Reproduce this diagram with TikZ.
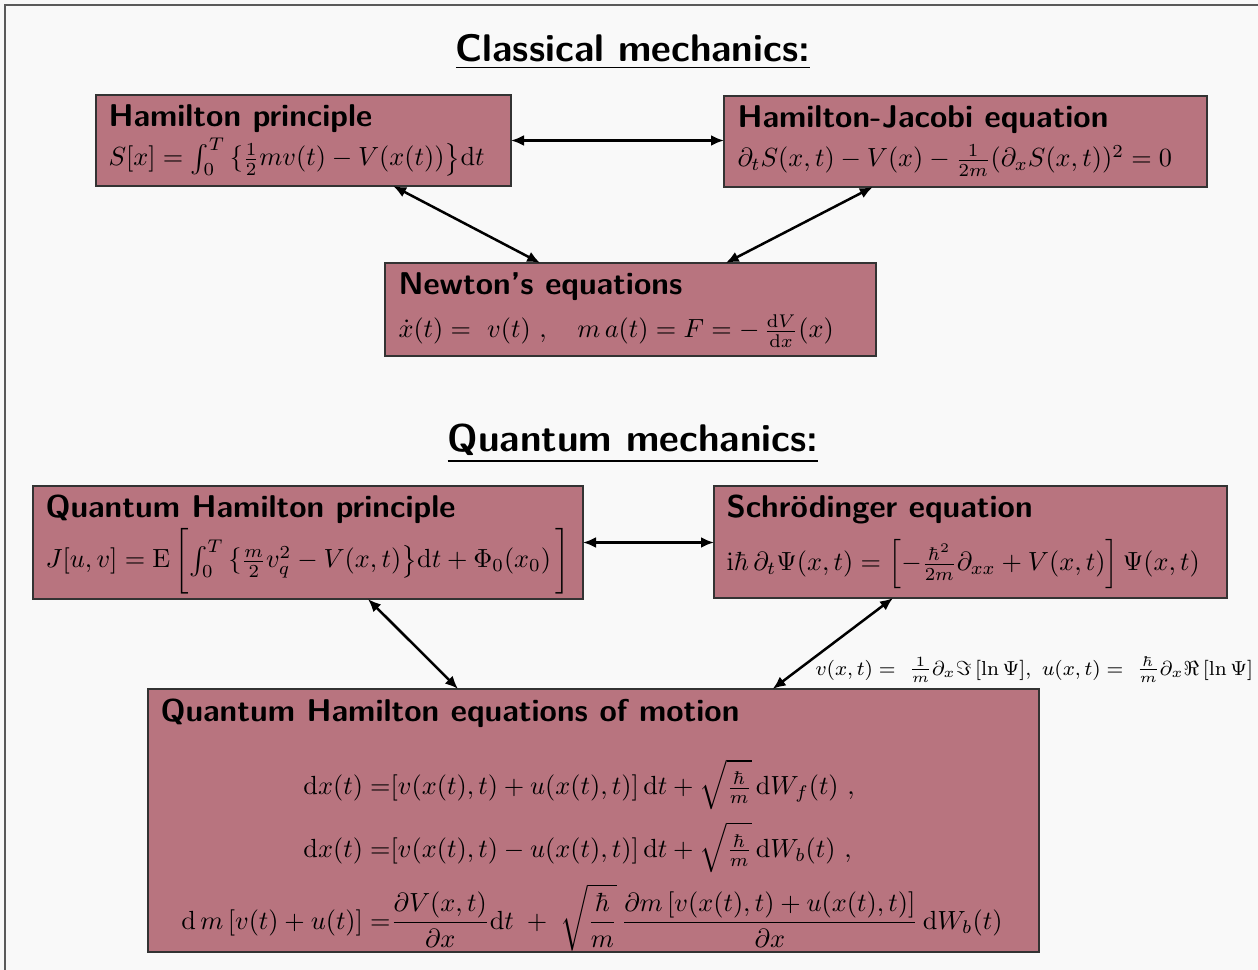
\RequirePackage{fix-cm}
\documentclass[tikz,border=0pt]{standalone}
\usepackage{amsmath}
\usetikzlibrary{arrows.meta,calc}
\definecolor{boxc}{RGB}{184,116,127}
\definecolor{bgc}{RGB}{249,249,249}
\definecolor{framec}{RGB}{90,90,90}
\begin{document}
\begin{tikzpicture}[x=0.4pt,y=-0.4pt,
  box/.style={draw=black!80, line width=0.5pt, fill=boxc, anchor=north west, inner sep=0pt, outer sep=0pt},
  ttl/.style={anchor=base west, inner sep=0pt, font=\fontsize{12.6}{15}\sffamily\bfseries},
  eq/.style={anchor=base west, inner sep=0pt, font=\fontsize{10.5}{12.5}\selectfont},
  head/.style={anchor=base, inner sep=0pt, font=\fontsize{15.4}{18}\sffamily\bfseries},
  link/.style={{Latex[length=5.2pt,width=4.4pt]}-{Latex[length=5.2pt,width=4.4pt]}, line width=1pt}]
\fill[bgc] (0,0) rectangle (1258,970);
\useasboundingbox (0,0) rectangle (1258,970);
\draw[framec, line width=0.6pt] (5,970) -- (5,5) -- (1258,5);

\node[head] (h1) at (633,62) {\underline{Classical mechanics:}};
\node[head] (h2) at (633,452) {\underline{Quantum mechanics:}};

% boxes
\node[box, minimum width=166pt, minimum height=36.4pt] (b1) at (96,95) {};
\node[box, minimum width=193.2pt, minimum height=36.4pt] (b2) at (724,96) {};
\node[box, minimum width=196.4pt, minimum height=37.2pt] (b3) at (385,263) {};
\node[box, minimum width=220pt, minimum height=45.2pt] (b4) at (33,486) {};
\node[box, minimum width=205.2pt, minimum height=44.8pt] (b5) at (714,486) {};
\node[box, minimum width=356.4pt, minimum height=105.2pt] (b6) at (148,689) {};

% titles
\node[ttl] (b1t) at ($(b1.north west)+(12,32)$) {Hamilton principle};
\node[ttl] (b2t) at ($(b2.north west)+(13,32)$) {Hamilton-Jacobi equation};
\node[ttl] (b3t) at ($(b3.north west)+(13,32)$) {Newton's equations};
\node[ttl] (b4t) at ($(b4.north west)+(12,32)$) {Quantum Hamilton principle};
\node[ttl] (b5t) at ($(b5.north west)+(12,32)$) {Schrödinger equation};
\node[ttl] (b6t) at ($(b6.north west)+(12,33)$) {Quantum Hamilton equations of motion};

% formulas
\node[eq] (b1m) at ($(b1.north west)+(12,71)$)
  {$S[x] = \int_0^T\,\{\tfrac{1}{2}mv(t) - V(x(t))\big\}\mathrm{d}t$};
\node[eq] (b2m) at ($(b2.north west)+(13,71)$)
  {$\partial_t S(x,t) - V(x) - \tfrac{1}{2m}(\partial_x S(x,t))^2 = 0$};
\node[eq] (b3m) at ($(b3.north west)+(13,75)$)
  {$\dot x(t) =\ v(t)\ ,\quad m\,a(t) = F = -\,\tfrac{\mathrm{d}V}{\mathrm{d}x}(x)$};
\node[eq] (b4m) at ($(b4.north west)+(12,82)$)
  {$J[u,v] = \mathrm{E}\,\biggl[\int_0^T\,\{\tfrac{m}{2}v_q^2 - V(x,t)\big\}\mathrm{d}t + \Phi_0(x_0)\,\biggr]$};
\node[eq] (b5m) at ($(b5.north west)+(12,85)$)
  {$\mathrm{i}\hbar\,\partial_t\Psi(x,t) = \Bigl[-\tfrac{\hbar^2}{2m}\partial_{xx} + V(x,t)\Bigr]\,\Psi(x,t)$};
\node[anchor=center, inner sep=0pt, font=\fontsize{10.5}{12.5}\selectfont] (b6m) at (592,855)
  {$\displaystyle\begin{aligned}
  \mathrm{d}x(t) =&[v(x(t),t)+u(x(t),t)]\,\mathrm{d}t+\sqrt{\tfrac{\hbar}{m}}\,\mathrm{d}W_f(t)\ ,\\[1pt]
  \mathrm{d}x(t) =&[v(x(t),t)-u(x(t),t)]\,\mathrm{d}t+\sqrt{\tfrac{\hbar}{m}}\,\mathrm{d}W_b(t)\ ,\\[0.5pt]
  \mathrm{d}\,m\,[v(t)+u(t)] =&\frac{\partial V(x,t)}{\partial x}\mathrm{d}t\;+\;\sqrt{\frac{\hbar}{m}}\,\frac{\partial m\,[v(x(t),t)+u(x(t),t)]}{\partial x}\,\mathrm{d}W_b(t)
  \end{aligned}$};

% connectors
\draw[link] (b1.east) -- (b1.east -| b2.west);
\draw[link] ($(b1.south west)!0.716!(b1.south east)$) -- ($(b3.north west)!0.316!(b3.north east)$);
\draw[link] ($(b2.south west)!0.308!(b2.south east)$) -- ($(b3.north west)!0.694!(b3.north east)$);
\draw[link] (b4.east) -- (b4.east -| b5.west);
\draw[link] ($(b4.south west)!0.609!(b4.south east)$) -- ($(b6.north west)!0.348!(b6.north east)$);
\draw[link] ($(b5.south west)!0.349!(b5.south east)$) -- ($(b6.north west)!0.701!(b6.north east)$);
\node[eq, font=\fontsize{8.1}{10}\selectfont] (lbl) at (815,675)
  {$v(x,t) =\ \tfrac{1}{m}\partial_x\Im\,[\ln\Psi],\ u(x,t) =\ \tfrac{\hbar}{m}\partial_x\Re\,[\ln\Psi]$};
\end{tikzpicture}
\end{document}
